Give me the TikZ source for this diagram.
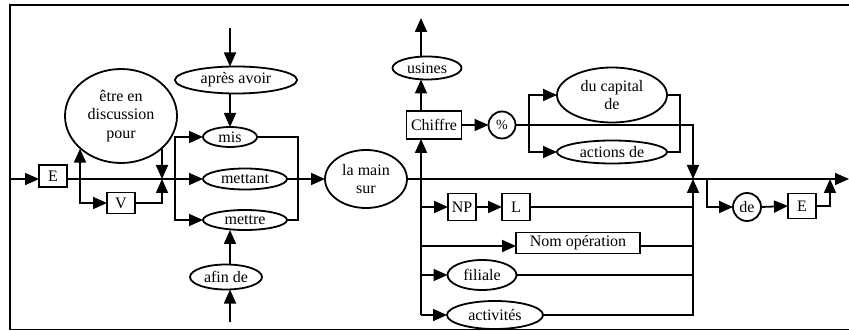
\documentclass[tikz,border=0pt]{standalone}
\usepackage{fontspec}
\setmainfont{Liberation Serif}
\usetikzlibrary{arrows.meta,shapes.geometric}
\begin{document}
\begin{tikzpicture}[x=1pt,y=-1pt,
  every node/.style={font=\fontsize{16}{18.5}\selectfont, inner sep=0pt, outer sep=0pt, line width=1.8pt, draw, align=center},
  ell/.style={ellipse},
  box/.style={rectangle},
  circ/.style={circle},
  arr/.style={-{Triangle[length=14pt,width=12pt]}},
  ln/.style={line width=1.8pt}]
\useasboundingbox (0,0) rectangle (849,331);
% frame
\draw[ln] (849,5) -- (10,5) -- (10,329.5) -- (849,329.5);
% nodes
\node[box, minimum width=28pt, minimum height=22pt] (E1) at (53,176) {E};
\node[box, minimum width=28pt, minimum height=21pt] (V) at (121,203) {V};
\node[ell, minimum width=112pt, minimum height=94pt] (etre) at (121,116) {être en\\discussion\\pour};
\node[ell, minimum width=122pt, minimum height=27pt] (apres) at (236,80) {après avoir};
\node[ell, minimum width=54pt, minimum height=20pt] (mis) at (230,137) {mis};
\node[ell, minimum width=84pt, minimum height=21pt] (mettant) at (245,179) {mettant};
\node[ell, minimum width=84pt, minimum height=20pt] (mettre) at (245,220) {mettre};
\node[ell, minimum width=72pt, minimum height=25pt] (afin) at (226,277) {afin de};
\node[ell, minimum width=82pt, minimum height=58pt] (laMain) at (366,179) {la main\\sur};
\node[box, minimum width=55pt, minimum height=28pt] (Chiffre) at (434,125) {Chiffre};
\node[ell, minimum width=69pt, minimum height=23pt] (usines) at (427,68) {usines};
\node[circ, minimum size=27pt, font=\fontsize{14}{16}\selectfont] (pct) at (502,125) {\%};
\node[ell, minimum width=110pt, minimum height=55pt] (capital) at (612,95) {du capital\\de};
\node[ell, minimum width=110pt, minimum height=23pt] (actions) at (612,152) {actions de};
\node[box, minimum width=28pt, minimum height=27pt] (NP) at (462,207) {NP};
\node[box, minimum width=28pt, minimum height=27pt] (L) at (516,207) {L};
\node[box, minimum width=124pt, minimum height=21pt] (NomOp) at (578,243) {Nom opération};
\node[ell, minimum width=69pt, minimum height=30pt] (filiale) at (482,275) {filiale};
\node[ell, minimum width=96pt, minimum height=28pt] (activites) at (495,315) {activités};
\node[circ, minimum size=28pt] (de) at (747,207) {de};
\node[box, minimum width=28pt, minimum height=25pt] (E2) at (802,206) {E};
% coordinates
\coordinate (start) at (10,179);
\coordinate (b1) at (80,179);
\coordinate (c1) at (162,179);
\coordinate (f1) at (175,179);
\coordinate (topA) at (230,28);
\coordinate (botA) at (230,322);
\coordinate (j1) at (298,179);
\coordinate (t0) at (421,179);
\coordinate (t1) at (421,207);
\coordinate (t2) at (421,246);
\coordinate (t3) at (421,275);
\coordinate (t4) at (421,315);
\coordinate (utop) at (421,18);
\coordinate (k1) at (529,125);
\coordinate (k2) at (680,125);
\coordinate (m2) at (693,179);
\coordinate (d0) at (707,179);
\coordinate (e2up) at (830,179);
\coordinate (endR) at (849,179);
% left part
\draw[ln,arr] (start) -- (start -| E1.west);
\draw[ln,arr] (E1.east |- start) -- (mettant.west);
\draw[ln,arr] (b1) -- (b1 |- etre.-141);
\draw[ln,arr] (b1) |- (V.west);
\draw[ln,arr] (V.east) -| (c1);
\draw[ln,arr] (etre.-39 -| c1) -- (c1);
\draw[ln,arr] (f1) |- (mis.west);
\draw[ln,arr] (f1) |- (mettre.west);
\draw[ln,arr] (topA) -- (topA |- apres.north);
\draw[ln,arr] (apres.south -| topA) -- (mis.north -| topA);
\draw[ln,arr] (botA) -- (afin.south -| botA);
\draw[ln,arr] (afin.north -| botA) -- (mettre.south -| botA);
\draw[ln] (mis.east) -| (j1);
\draw[ln] (mettre.east) -| (j1);
\draw[ln,arr] (mettant.east) -- (laMain.west);
% main line
\draw[ln,arr] (laMain.east) -- (endR);
% trunk
\draw[ln,arr] (t4) -- (t0 |- Chiffre.south);
\draw[ln,arr] (Chiffre.north -| t0) -- (usines.south -| t0);
\draw[ln,arr] (usines.north -| t0) -- (utop);
\draw[ln,arr] (Chiffre.east) -- (pct.west);
\draw[ln,arr] (pct.east) -| (m2);
\draw[ln,arr] (k1) |- (capital.west);
\draw[ln,arr] (k1) |- (actions.west);
\draw[ln] (capital.east) -| (actions.east -| k2) -- (actions.east);
\draw[ln,arr] (t1) -- (NP.west);
\draw[ln,arr] (NP.east) -- (L.west);
\draw[ln] (L.east) -- (L.east -| m2);
\draw[ln,arr] (t2) -- (t2 -| NomOp.west);
\draw[ln] (t2 -| NomOp.east) -- (t2 -| m2);
\draw[ln,arr] (t3) -- (filiale.west);
\draw[ln] (filiale.east) -- (filiale.east -| m2);
\draw[ln,arr] (t4) -- (activites.west);
\draw[ln,arr] (activites.east) -| (m2);
% de branch
\draw[ln,arr] (d0) |- (de.west);
\draw[ln,arr] (de.east) -- (E2.west);
\draw[ln,arr] (E2.east) -| (e2up);
\end{tikzpicture}
\end{document}
